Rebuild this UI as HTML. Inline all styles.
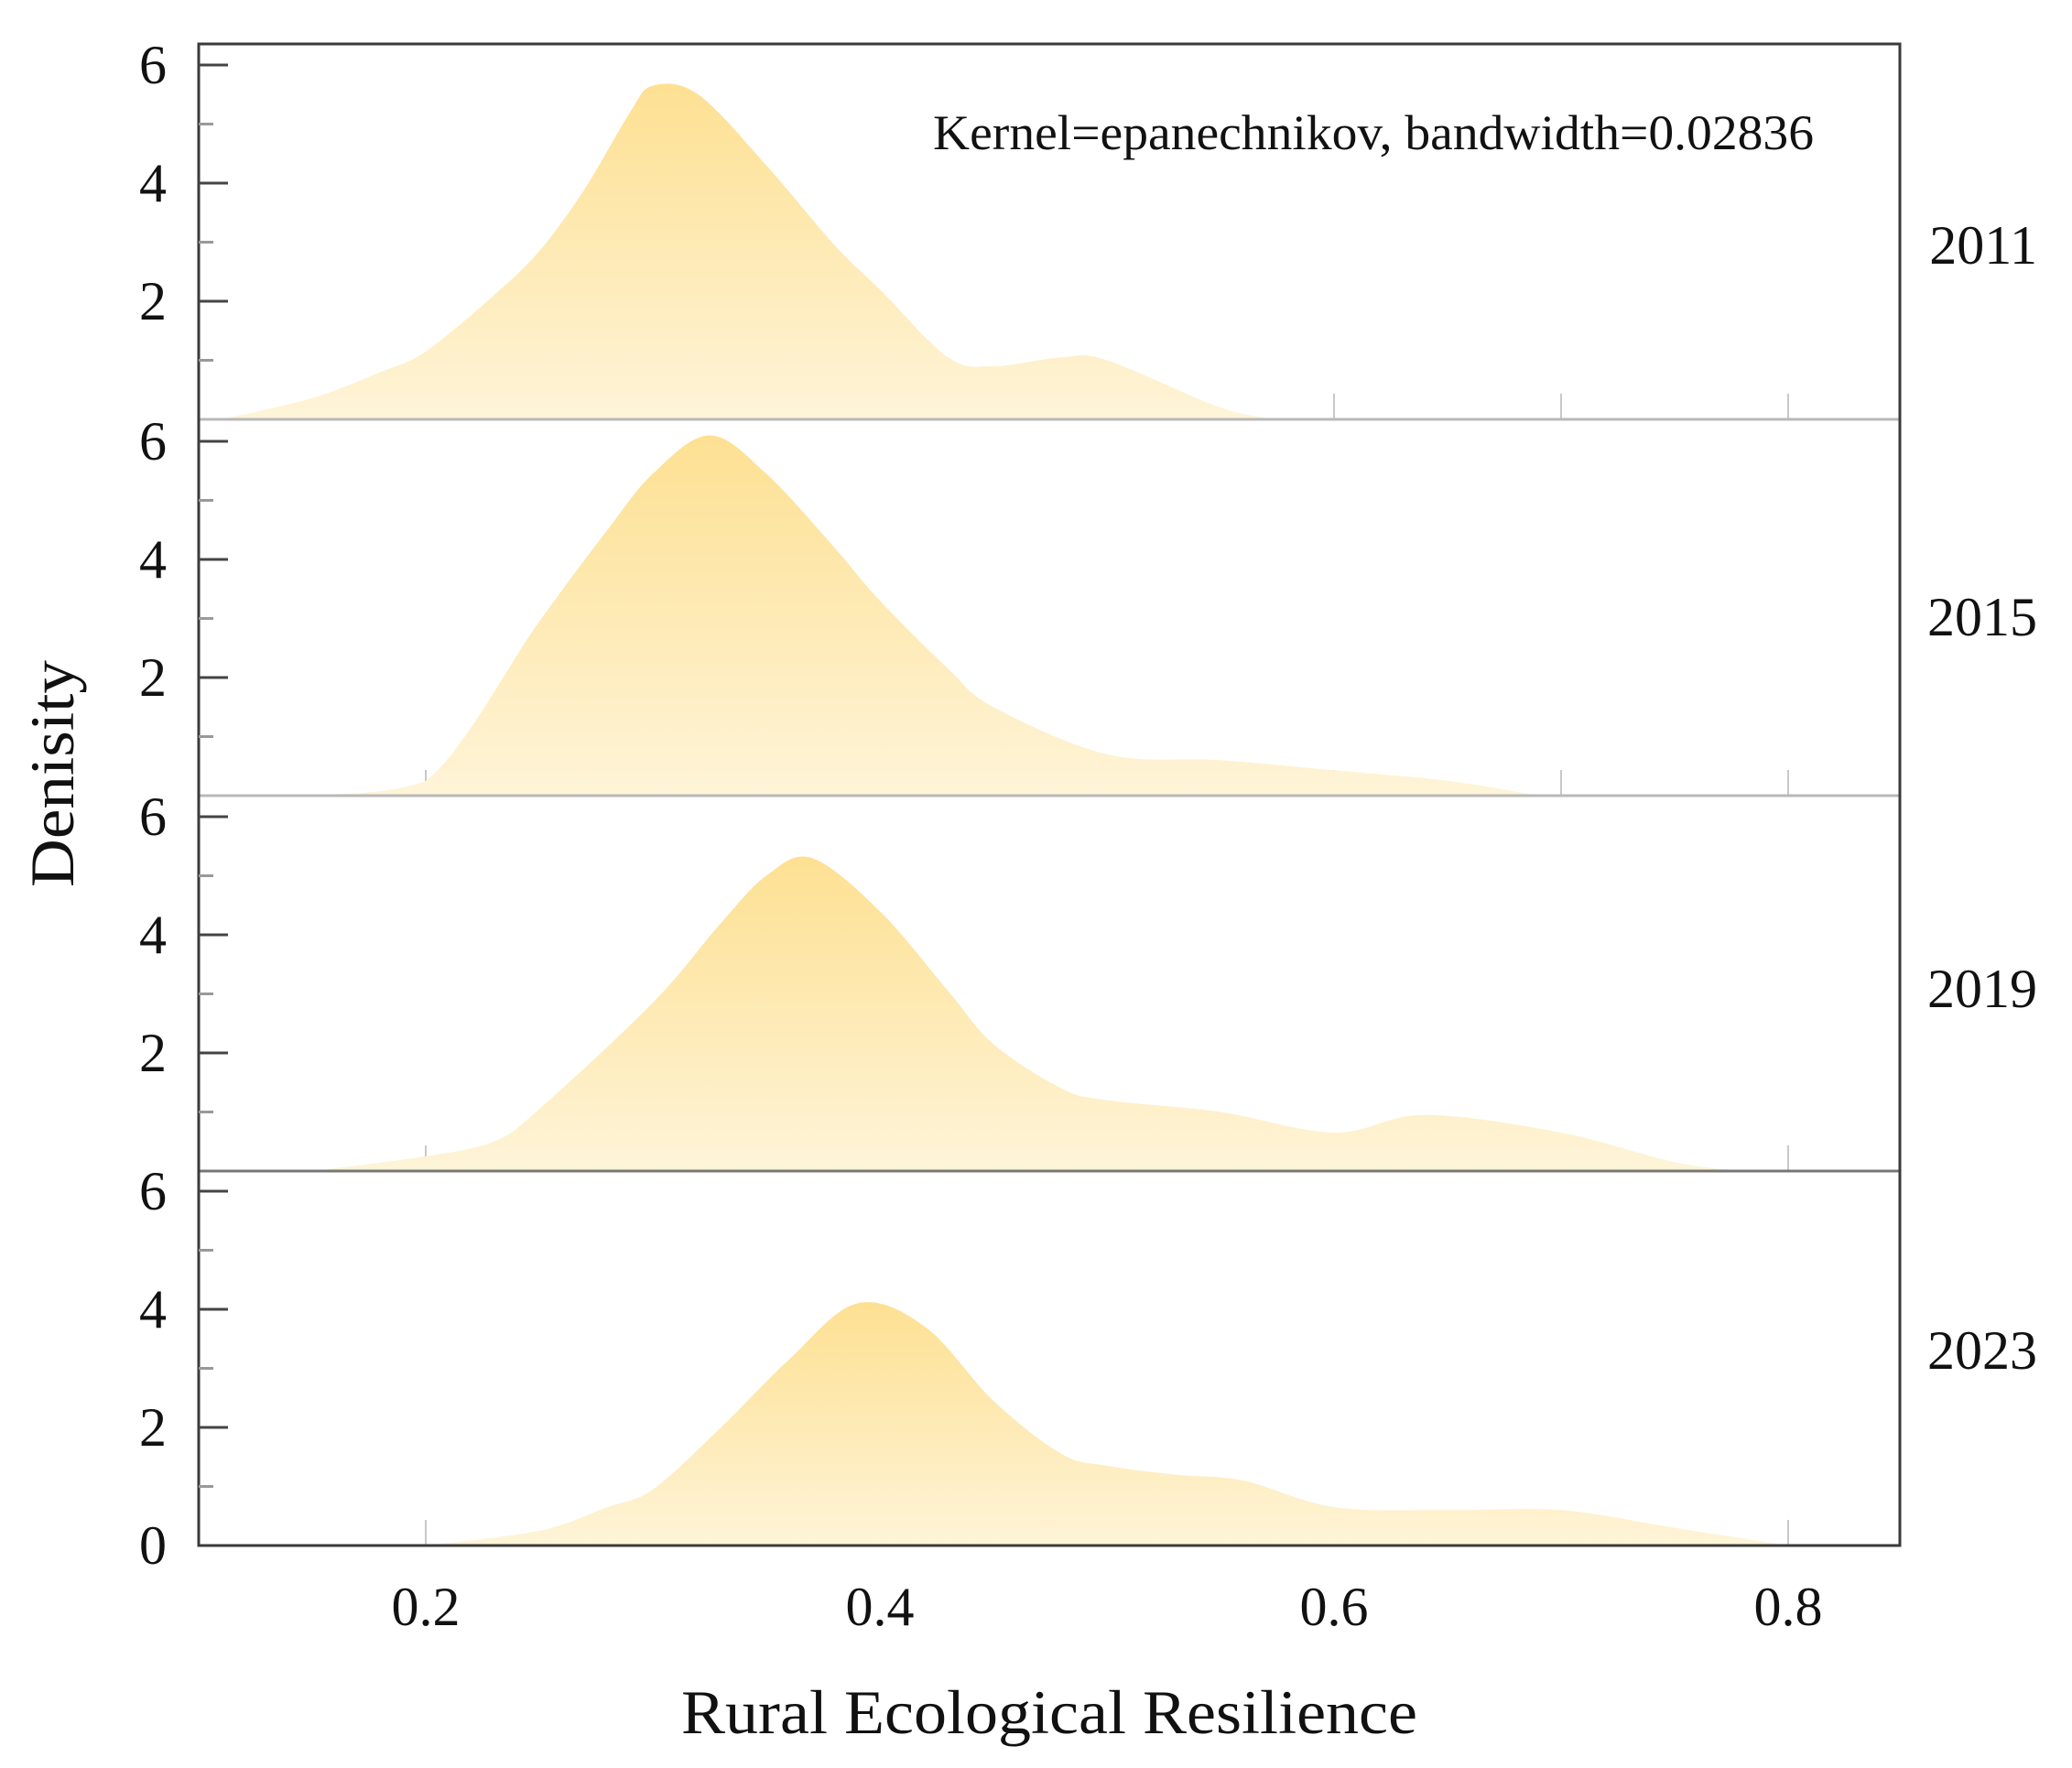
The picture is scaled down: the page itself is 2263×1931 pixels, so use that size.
<!DOCTYPE html>
<html><head><meta charset="utf-8"><style>
html,body{margin:0;padding:0;background:#fff;}
svg{display:block;font-family:"Liberation Serif",serif;}
</style></head><body>
<svg id="chart" width="2263" height="1931" viewBox="0 0 2263 1931" xmlns="http://www.w3.org/2000/svg">
<defs>
<linearGradient id="fillGrad" x1="0" y1="0" x2="0" y2="1">
<stop offset="0" stop-color="#fde092"/>
<stop offset="1" stop-color="#fef4d8"/>
</linearGradient>
</defs>
<g id="marks"></g>
<g id="axes"></g>
</svg>
<script>
const years = ["2011","2015","2019","2023"];
const xs2011 = [0.11,0.15,0.18,0.2,0.23,0.25,0.27,0.29,0.3,0.32,0.35,0.38,0.4,0.43,0.45,0.48,0.5,0.55,0.575];
const ys2011 = [0,0.36,0.8,1.15,2.1,2.85,3.9,5.2,5.65,5.5,4.3,2.95,2.2,1.05,0.9,1.05,1.0,0.2,0];
const xs2015 = [0.15,0.2,0.25,0.28,0.3,0.325,0.35,0.38,0.4,0.43,0.45,0.5,0.55,0.6,0.65,0.69];
const ys2015 = [0,0.25,2.95,4.5,5.45,6.1,5.45,4.2,3.3,2.15,1.5,0.7,0.6,0.43,0.25,0];
const xs2019 = [0.15,0.2,0.23,0.25,0.3,0.33,0.35,0.37,0.4,0.43,0.45,0.48,0.5,0.55,0.6,0.64,0.7,0.75,0.78];
const ys2019 = [0,0.25,0.5,1.05,2.85,4.2,5.0,5.3,4.4,3.05,2.15,1.4,1.2,1.0,0.65,0.95,0.65,0.15,0];
const xs2023 = [0.2,0.25,0.28,0.3,0.33,0.36,0.39,0.42,0.45,0.48,0.5,0.53,0.56,0.6,0.65,0.7,0.75,0.8];
const ys2023 = [0,0.25,0.65,0.95,2.0,3.15,4.1,3.7,2.45,1.55,1.35,1.2,1.1,0.65,0.6,0.6,0.3,0];
const xTicks = [0.2,0.4,0.6,0.8];
const yTicks = [0,2,4,6];

const seriesX = [xs2011,xs2015,xs2019,xs2023];
const seriesY = [ys2011,ys2015,ys2019,ys2023];
const NS = "http://www.w3.org/2000/svg";
const L = 217, R = 2075, TOP = 48;
const baselines = [458,869,1279,1688];
const unit = 64.5;
const xScale = v => L + (v - 0.1) * 2480;
const yScale = (p, d) => baselines[p] - d * unit;
const marks = document.getElementById('marks');
const axes = document.getElementById('axes');
function mk(tag, attrs, parent){const e=document.createElementNS(NS,tag);for(const k in attrs)e.setAttribute(k,attrs[k]);parent.appendChild(e);return e;}

for (let p=0;p<4;p++){
  for (let v=0.2; v<=0.801; v+=0.1){
    const t = mk('line',{x1:xScale(v),x2:xScale(v),y1:baselines[p],y2:baselines[p]-28,stroke:'#c8c8c8','stroke-width':2},marks);
    
    
  }
}
for (let p=0;p<4;p++){
  const X = seriesX[p], Y = seriesY[p];
  const pts = X.map((x,i)=>[xScale(x), yScale(p,Y[i])]);
  let d = `M${pts[0][0]},${baselines[p]} L${pts[0][0]},${pts[0][1]}`;
  for (let i=0;i<pts.length-1;i++){
    const p0=pts[Math.max(0,i-1)],p1=pts[i],p2=pts[i+1],p3=pts[Math.min(pts.length-1,i+2)];
    const c1=[p1[0]+(p2[0]-p0[0])/6, p1[1]+(p2[1]-p0[1])/6];
    const c2=[p2[0]-(p3[0]-p1[0])/6, p2[1]-(p3[1]-p1[1])/6];
    d+=` C${c1[0]},${Math.min(c1[1],baselines[p])} ${c2[0]},${Math.min(c2[1],baselines[p])} ${p2[0]},${p2[1]}`;
  }
  d+=` L${pts[pts.length-1][0]},${baselines[p]} Z`;
  const a = mk('path',{d:d,fill:'url(#fillGrad)'},marks);
  
  
}
for (let p=0;p<3;p++){
  const s = mk('line',{x1:L,x2:R,y1:baselines[p],y2:baselines[p],stroke:p==2?'#777':'#b8b8b8','stroke-width':3},axes);
  
  
}
const fr = mk('rect',{x:L,y:TOP,width:R-L,height:baselines[3]-TOP,fill:'none',stroke:'#3a3a3a','stroke-width':3},axes);


for (let p=0;p<4;p++){
  for (let v=1; v<=6; v++){
    const major = v%2===0;
    const y = yScale(p,v);
    const t = mk('line',{x1:L,x2:L+(major?32:16),y1:y,y2:y,stroke:major?'#444':'#999','stroke-width':3},axes);
    
    
  }
  yTicks.forEach(v=>{
    if (v===0 && p<3) return;
    const tx = mk('text',{x:182,y:yScale(p,v)+20,'font-size':60,'text-anchor':'end',fill:'#111'},axes);
    tx.textContent = v;
    
    
  });
  const yl = mk('text',{x:2225,y:[268,674,1080,1475][p]+20,'font-size':60,'text-anchor':'end',fill:'#111'},axes);
  yl.textContent = years[p];
  
  
}
xTicks.forEach(v=>{
  const tx = mk('text',{x:xScale(v),y:1775,'font-size':60,'text-anchor':'middle',fill:'#111'},axes);
  tx.textContent = v.toFixed(1);
  
  
});
const xt = mk('text',{x:1146,y:1893,'font-size':68,'text-anchor':'middle',fill:'#111',textLength:804,lengthAdjust:'spacingAndGlyphs'},axes);
xt.textContent = 'Rural Ecological Resilience';


const yt = mk('text',{x:0,y:0,'font-size':68,'text-anchor':'middle',fill:'#111',transform:'translate(80,845) rotate(-90)',textLength:248,lengthAdjust:'spacingAndGlyphs'},axes);
yt.textContent = 'Denisity';


const an = mk('text',{x:1019,y:163,'font-size':54,fill:'#111',textLength:962,lengthAdjust:'spacingAndGlyphs'},axes);
an.textContent = 'Kernel=epanechnikov, bandwidth=0.02836';


</script>
</body></html>
